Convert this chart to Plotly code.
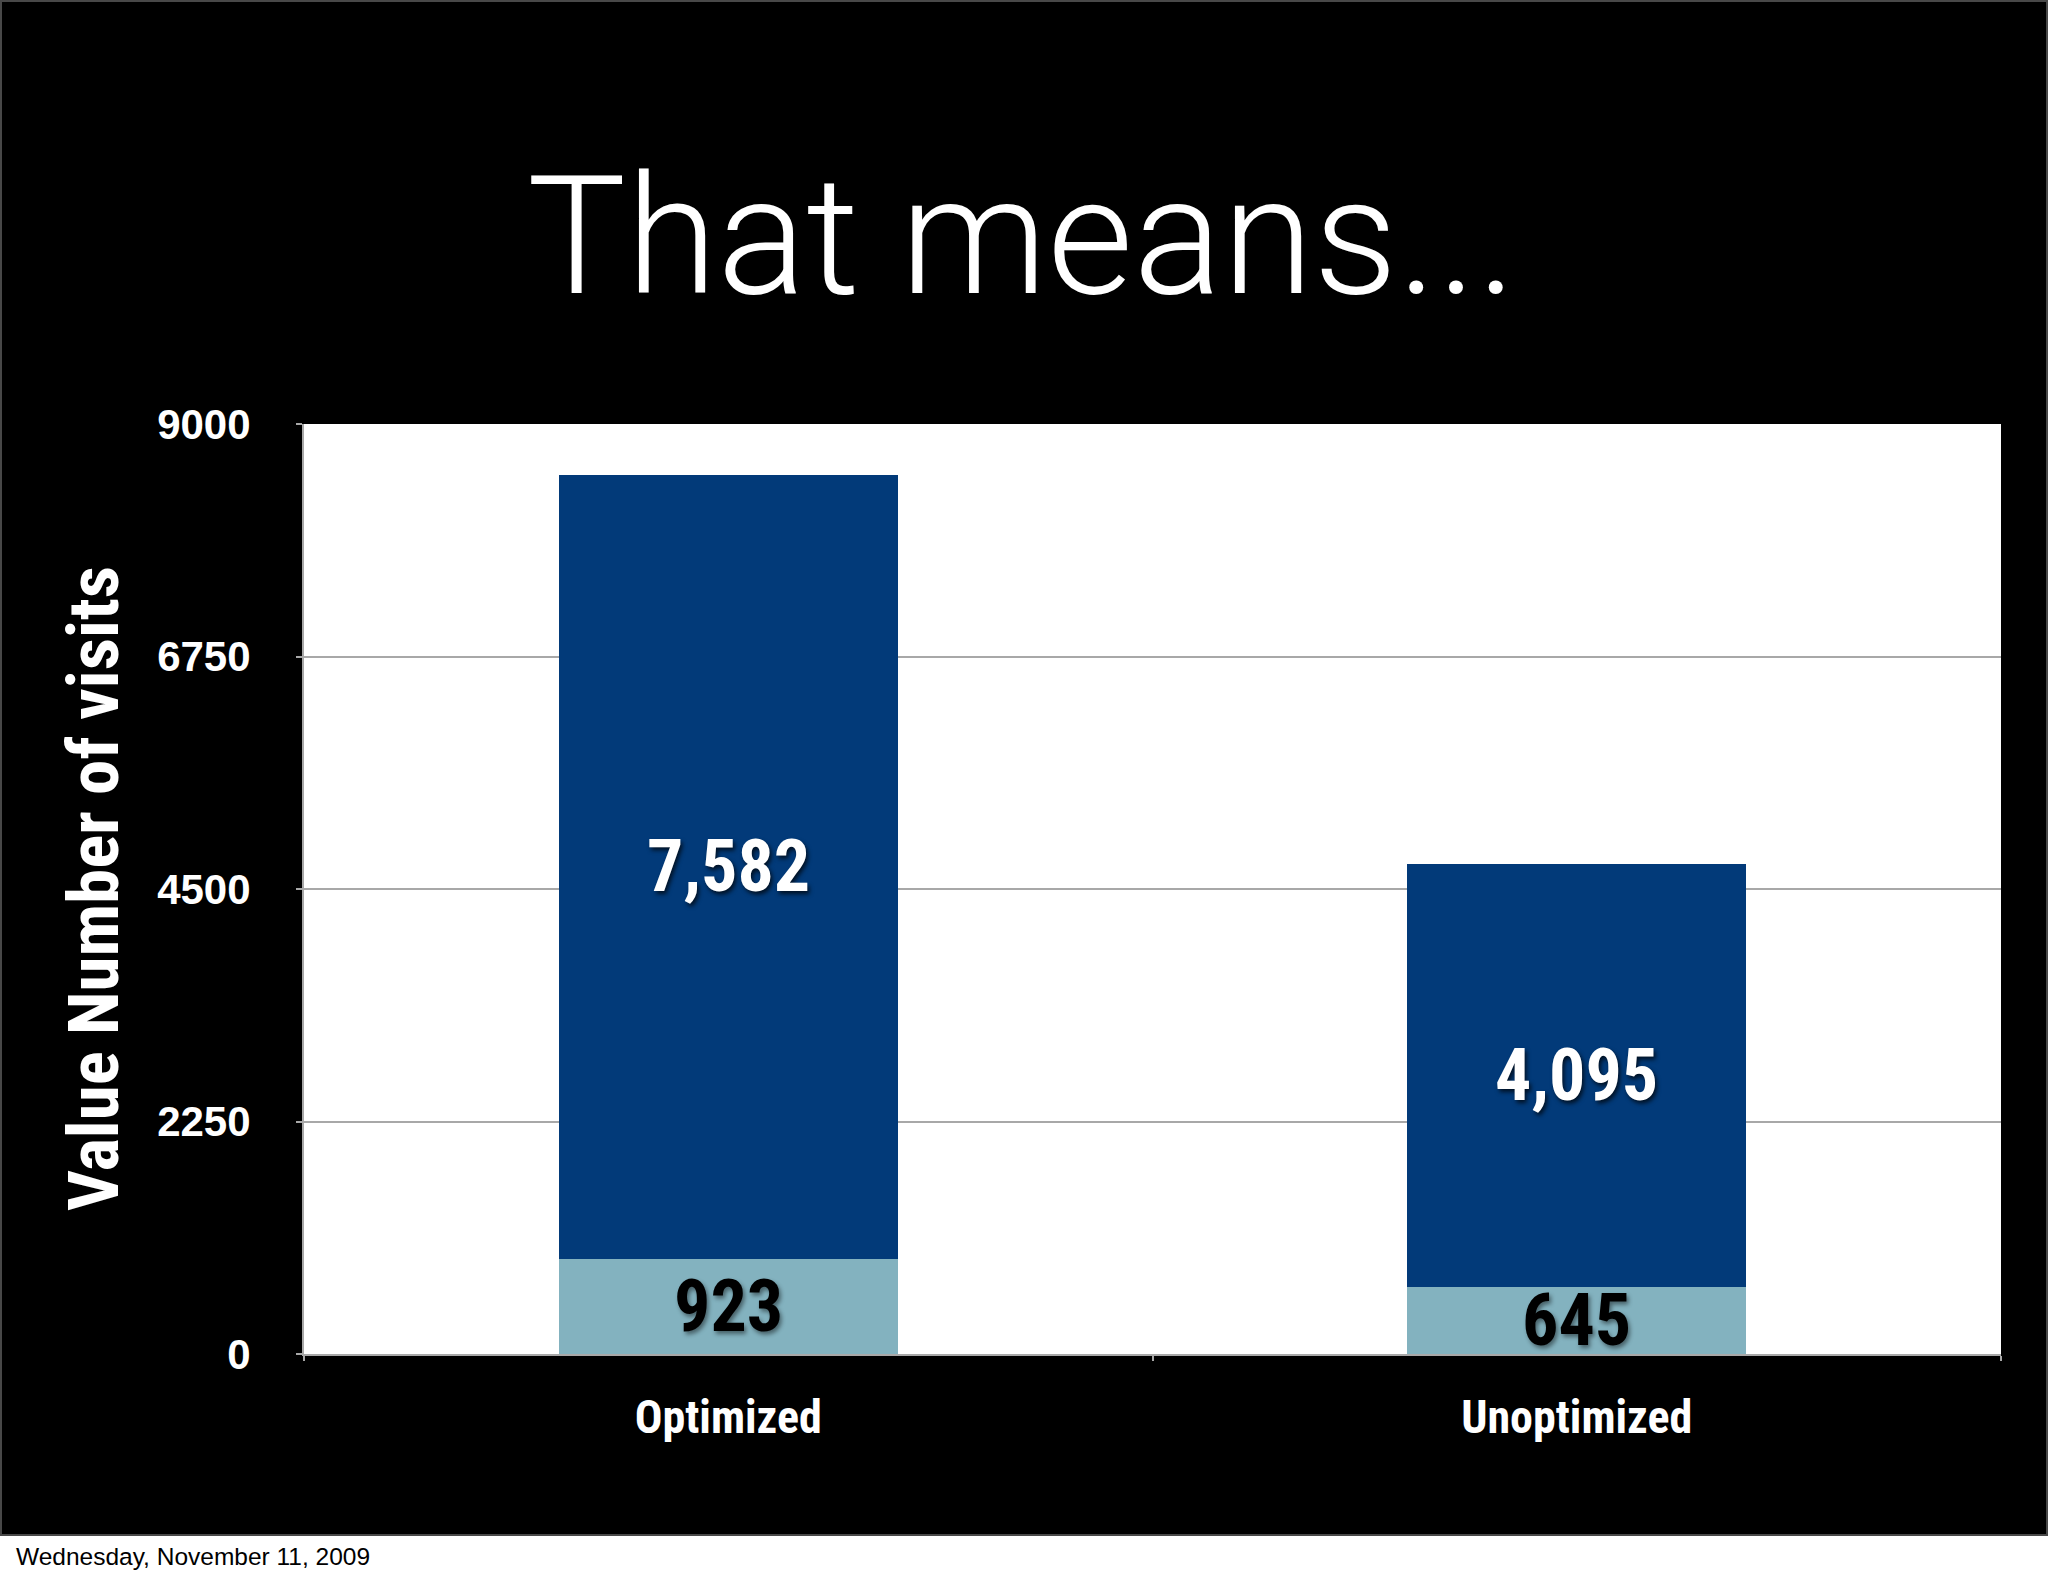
import plotly.graph_objects as go

categories = ["Optimized", "Unoptimized"]
bottom_values = [923, 645]
top_values = [7582, 4095]
bottom_labels = ["923", "645"]
top_labels = ["7,582", "4,095"]
y_ticks = [0, 2250, 4500, 6750, 9000]

title_text = "That means..."
y_title = "Value Number of visits"
footer_text = "Wednesday, November 11, 2009"

DARK = "#023A79"
LIGHT = "#83B2BF"
GRID = "#A8A8A8"
COND = "Roboto Condensed, Liberation Sans Narrow, DejaVu Sans Condensed"

W, H = 2048, 1576
ML, MR, MT, MB = 304, 47, 424, 222
PW = W - ML - MR
PH = H - MT - MB


def px_x(px):
    return (px - ML) / PW


def px_y(py):
    return (H - MB - py) / PH


fig = go.Figure()
fig.add_trace(go.Bar(x=categories, y=bottom_values, marker=dict(color=LIGHT, line=dict(width=0)),
                     hoverinfo="skip", showlegend=False))
fig.add_trace(go.Bar(x=categories, y=top_values, marker=dict(color=DARK, line=dict(width=0)),
                     hoverinfo="skip", showlegend=False))

annotations = []
for c, b, t, bl, tl in zip(categories, bottom_values, top_values, bottom_labels, top_labels):
    annotations.append(dict(x=c, y=b / 2, xref="x", yref="y", text=bl, showarrow=False,
                            font=dict(family=COND, size=72, color="#000000",
                                      weight="bold", shadow="2px 3px 4px rgba(0,0,0,0.45)"),
                            xanchor="center", yanchor="middle"))
    annotations.append(dict(x=c, y=b + t / 2, xref="x", yref="y", text=tl, showarrow=False,
                            font=dict(family=COND, size=72, color="#FFFFFF",
                                      weight="bold", shadow="2px 3px 4px rgba(0,0,0,0.7)"),
                            xanchor="center", yanchor="middle"))

annotations.append(dict(x=px_x(93), y=0.5, xref="paper", yref="paper", text=y_title,
                        showarrow=False, textangle=-90, xanchor="center", yanchor="middle",
                        font=dict(family=COND, size=71, color="#FFFFFF", weight="bold")))
annotations.append(dict(x=px_x(1022), y=px_y(237), xref="paper", yref="paper", text=title_text,
                        showarrow=False, xanchor="center", yanchor="middle",
                        font=dict(family="Roboto", size=166, color="#FFFFFF", weight=300)))
annotations.append(dict(x=px_x(14), y=px_y(1556), xref="paper", yref="paper", text=footer_text,
                        showarrow=False, xanchor="left", yanchor="middle",
                        font=dict(family="Liberation Sans", size=24.5, color="#000000")))

shapes = [
    dict(type="rect", xref="paper", yref="paper", x0=px_x(0), x1=px_x(W), y0=px_y(1536), y1=px_y(H),
         fillcolor="#FFFFFF", line=dict(width=0), layer="above"),
    dict(type="rect", xref="paper", yref="paper", x0=px_x(1), x1=px_x(W - 1), y0=px_y(1535), y1=px_y(1),
         fillcolor="rgba(0,0,0,0)", line=dict(color="#484848", width=2), layer="above"),
]

fig.update_layout(
    width=W, height=H,
    margin=dict(l=ML, r=MR, t=MT, b=MB, pad=0),
    paper_bgcolor="#000000",
    plot_bgcolor="#FFFFFF",
    barmode="stack",
    bargap=0.6,
    showlegend=False,
    annotations=annotations,
    shapes=shapes,
    xaxis=dict(
        type="category", tickson="boundaries", ticks="outside", ticklen=5, tickwidth=2,
        tickcolor=GRID, showline=True, linecolor=GRID, linewidth=2, showgrid=False,
        tickfont=dict(family=COND, size=46, color="#FFFFFF", weight="bold"),
        ticklabelstandoff=22, fixedrange=True,
    ),
    yaxis=dict(
        range=[0, 9000], tickvals=y_ticks, ticktext=[str(v) for v in y_ticks],
        ticks="outside", ticklen=6, tickwidth=2, tickcolor=GRID,
        showline=True, linecolor=GRID, linewidth=2,
        showgrid=True, gridcolor=GRID, gridwidth=1.5, zeroline=False,
        tickfont=dict(family="Liberation Sans", size=42, color="#FFFFFF", weight="bold"),
        ticklabelstandoff=37, fixedrange=True,
    ),
)

fig.write_html("out.html", config={"displayModeBar": False},
               post_script="document.body.style.margin='0';")
